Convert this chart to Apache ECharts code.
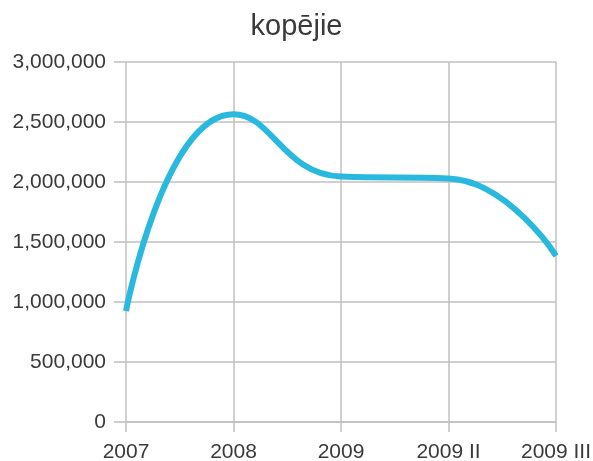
<!DOCTYPE html>
<html>
<head>
<meta charset="utf-8">
<script src="https://cdn.jsdelivr.net/npm/echarts@6/dist/echarts.min.js"></script>
<style>
  html, body { margin: 0; padding: 0; background: #fff; }
  #main { width: 593px; height: 461px; }
</style>
</head>
<body>
<div id="main"></div>
<script>
var categories = ['2007', '2008', '2009', '2009 II', '2009 III'];
var totals = [925000, 2565000, 2045000, 2030000, 1385000];
var yTicks = [0, 500000, 1000000, 1500000, 2000000, 2500000, 3000000];

var gridColor = '#c0c0c0';
var textColor = '#3a3a3a';
var font = '"Liberation Sans", Arial, sans-serif';

var myChart = echarts.init(document.getElementById('main'));
var option = {
    animation: false,
    title: {
        text: 'kopējie',
        left: 'center',
        top: 7,
        textStyle: {
            fontFamily: font,
            fontSize: 29,
            fontWeight: 'normal',
            color: textColor
        }
    },
    grid: {
        left: 126,
        right: 37,
        top: 62,
        bottom: 39,
        outerBoundsMode: 'none'
    },
    xAxis: {
        type: 'category',
        boundaryGap: false,
        data: categories,
        axisLine: { lineStyle: { color: gridColor, width: 1.5 } },
        axisTick: { show: true, length: 10, lineStyle: { color: gridColor, width: 1.5 } },
        splitLine: { show: true, lineStyle: { color: gridColor, width: 1.5 } },
        axisLabel: {
            margin: 20,
            fontFamily: font,
            fontSize: 21,
            color: textColor
        }
    },
    yAxis: {
        type: 'value',
        min: yTicks[0],
        max: yTicks[yTicks.length - 1],
        interval: yTicks[1] - yTicks[0],
        axisLine: { show: false },
        axisTick: { show: true, length: 12, lineStyle: { color: gridColor, width: 1.5 } },
        splitLine: { show: true, lineStyle: { color: gridColor, width: 1.5 } },
        axisLabel: {
            margin: 20,
            fontFamily: font,
            fontSize: 21,
            color: textColor,
            formatter: function (v) { return v.toLocaleString('en-US'); }
        }
    },
    series: [{
        type: 'line',
        data: totals,
        smooth: 0.5,
        symbol: 'none',
        lineStyle: { color: '#29b9de', width: 6 }
    }]
};
myChart.setOption(option);
</script>
</body>
</html>
